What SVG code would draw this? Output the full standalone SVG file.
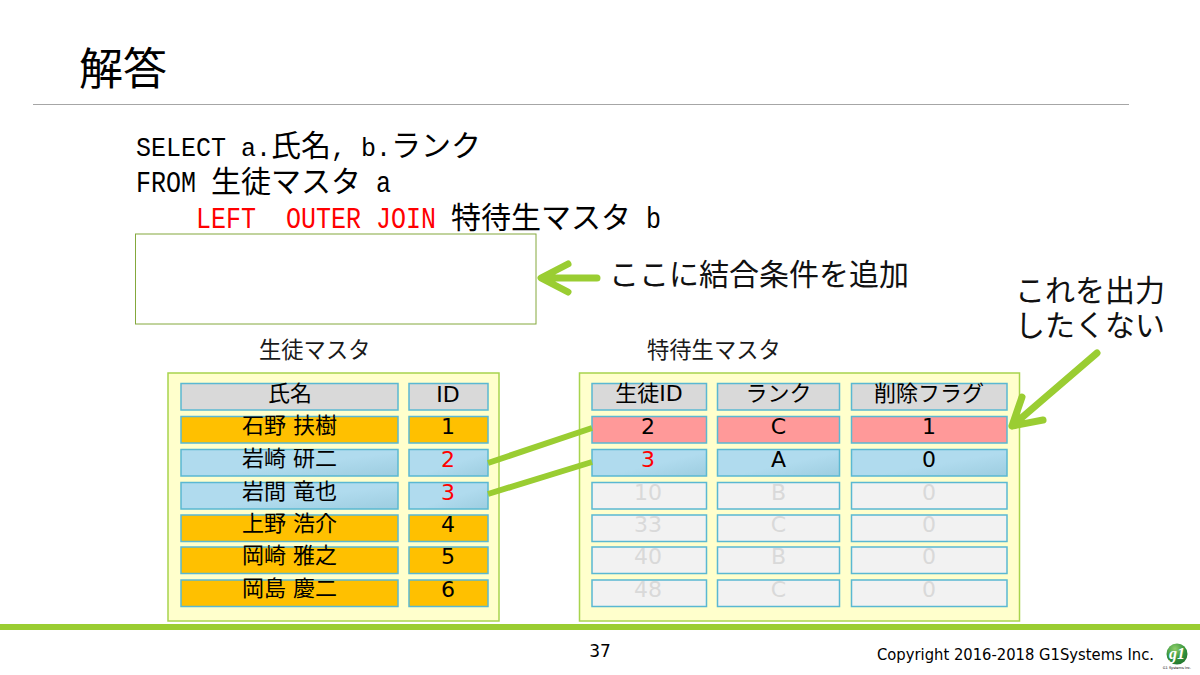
<svg xmlns="http://www.w3.org/2000/svg" width="1200" height="675" viewBox="0 0 1200 675">
<style>
text{font-family:"DejaVu Sans","Noto Sans CJK JP",sans-serif;fill:#000}
.code{font-family:"Liberation Mono","Noto Sans CJK JP",monospace;font-size:30px}
.sm{font-size:25px}
.sel{font-size:28px}
.cj{font-family:"Noto Sans CJK JP",sans-serif}
.red{fill:#f00}
.t{font-size:22px;text-anchor:middle}
.n{font-size:22px;text-anchor:middle;font-family:"Noto Sans CJK JP",sans-serif}
.lab{font-size:22.300px;fill:#1a1a1a}
.big{font-size:30px;fill:#111}
.panel{fill:#ffc;stroke:#a8d44e;stroke-width:1.5}
.c{stroke:#5ab8d2;stroke-width:1.5}
.h{fill:#d9d9d9}.o{fill:#ffc000}.b{fill:url(#blue)}.p{fill:#f99}.g{fill:#f2f2f2}
.pale{fill:#d9d9d9}
.ln{stroke:#9acd32;stroke-width:6;fill:none;stroke-linecap:round;stroke-linejoin:round}
.ar{stroke-width:7}
.st{stroke-linecap:butt}
</style>
<defs>
<linearGradient id="blue" x1="0" y1="0" x2="1" y2="1"><stop offset="0.55" stop-color="#b0dbee"/><stop offset="1" stop-color="#9dcde0"/></linearGradient>
<radialGradient id="logo" cx="0.4" cy="0.25" r="0.85"><stop offset="0" stop-color="#8fcf6a"/><stop offset="0.6" stop-color="#2f8f3a"/><stop offset="1" stop-color="#1f6f2c"/></radialGradient>
</defs>
<rect width="1200" height="675" fill="#fff"/>
<g id="header">
<text class="cj" x="79" y="85" font-size="44" fill="#111">解答</text>
<line x1="33" y1="104.500" x2="1129" y2="104.500" stroke="#a6a6a6" stroke-width="1"/>
</g>
<g id="sql">
<text class="code sel" x="136" y="156" textLength="90" lengthAdjust="spacingAndGlyphs">SELECT</text>
<text class="code sm" x="241" y="156">a.</text>
<text class="code" x="271" y="156">氏名</text>
<text class="code sm" x="331" y="156">,</text>
<text class="code sm" x="361" y="156">b.</text>
<text class="code" x="391" y="156">ランク</text>
<text class="code" x="136" y="192" textLength="60" lengthAdjust="spacingAndGlyphs">FROM</text>
<text class="code" x="211" y="192">生徒マスタ</text>
<text class="code" x="376" y="192" textLength="15" lengthAdjust="spacingAndGlyphs">a</text>
<text class="code red" x="196" y="228" textLength="60" lengthAdjust="spacingAndGlyphs">LEFT</text>
<text class="code red" x="286" y="228" textLength="75" lengthAdjust="spacingAndGlyphs">OUTER</text>
<text class="code red" x="376" y="228" textLength="60" lengthAdjust="spacingAndGlyphs">JOIN</text>
<text class="code" x="451" y="228">特待生マスタ</text>
<text class="code" x="646" y="228" textLength="15" lengthAdjust="spacingAndGlyphs">b</text>
</g>
<g id="condition-box"><rect x="135.500" y="234" width="400.500" height="90" fill="#fff" stroke="#84a83c" stroke-width="1"/></g>
<g id="condition-note"><text class="big" x="609" y="285">ここに結合条件を追加</text></g>
<g id="output-note"><text class="big" x="1015" y="301">これを出力</text><text class="big" x="1015" y="336">したくない</text></g>
<g id="student-label"><text class="lab" x="259" y="358">生徒マスタ</text></g>
<g id="special-label"><text class="lab" x="647" y="358">特待生マスタ</text></g>

<g id="student-table">
<rect class="panel" x="168" y="373" width="331" height="248"/>
<g id="s-head"><rect class="c h" x="181" y="383.500" width="217" height="26.500"/><rect class="c h" x="409" y="383.500" width="79" height="26.500"/><text class="n" x="290" y="401">氏名</text><text class="t" x="448" y="402">ID</text></g>
<g id="s-1"><rect class="c o" x="181" y="416.500" width="217" height="26.500"/><rect class="c o" x="409" y="416.500" width="79" height="26.500"/><text class="t" x="289.500" y="433">石野 扶樹</text><text class="t" x="448" y="434">1</text></g>
<g id="s-2"><rect class="c b" x="181" y="449.500" width="217" height="26.500"/><rect class="c b" x="409" y="449.500" width="79" height="26.500"/><text class="t" x="289.500" y="466">岩崎 研二</text><text class="t red" x="448" y="467">2</text></g>
<g id="s-3"><rect class="c b" x="181" y="482.500" width="217" height="26.500"/><rect class="c b" x="409" y="482.500" width="79" height="26.500"/><text class="t" x="289.500" y="499">岩間 竜也</text><text class="t red" x="448" y="500">3</text></g>
<g id="s-4"><rect class="c o" x="181" y="515" width="217" height="26.500"/><rect class="c o" x="409" y="515" width="79" height="26.500"/><text class="t" x="289.500" y="531">上野 浩介</text><text class="t" x="448" y="532">4</text></g>
<g id="s-5"><rect class="c o" x="181" y="547" width="217" height="26.500"/><rect class="c o" x="409" y="547" width="79" height="26.500"/><text class="t" x="289.500" y="563">岡崎 雅之</text><text class="t" x="448" y="564">5</text></g>
<g id="s-6"><rect class="c o" x="181" y="580" width="217" height="26.500"/><rect class="c o" x="409" y="580" width="79" height="26.500"/><text class="t" x="289.500" y="596">岡島 慶二</text><text class="t" x="448" y="597">6</text></g>
</g>

<g id="special-table">
<rect class="panel" x="579.500" y="373" width="440" height="248"/>
<g id="t-head"><rect class="c h" x="592" y="383.500" width="114.500" height="26.500"/><rect class="c h" x="717.500" y="383.500" width="122" height="26.500"/><rect class="c h" x="851.500" y="383.500" width="155.500" height="26.500"/><text class="t" x="649" y="401">生徒ID</text><text class="t" x="778.500" y="401">ランク</text><text class="t" x="929" y="401">削除フラグ</text></g>
<g id="t-1"><rect class="c p" x="592" y="416.500" width="114.500" height="26.500"/><rect class="c p" x="717.500" y="416.500" width="122" height="26.500"/><rect class="c p" x="851.500" y="416.500" width="155.500" height="26.500"/><text class="t" x="648" y="434">2</text><text class="t" x="778.500" y="434">C</text><text class="t" x="929" y="434">1</text></g>
<g id="t-2"><rect class="c b" x="592" y="449.500" width="114.500" height="26.500"/><rect class="c b" x="717.500" y="449.500" width="122" height="26.500"/><rect class="c b" x="851.500" y="449.500" width="155.500" height="26.500"/><text class="t red" x="648" y="467">3</text><text class="t" x="778.500" y="467">A</text><text class="t" x="929" y="467">0</text></g>
<g id="t-3"><rect class="c g" x="592" y="482.500" width="114.500" height="26.500"/><rect class="c g" x="717.500" y="482.500" width="122" height="26.500"/><rect class="c g" x="851.500" y="482.500" width="155.500" height="26.500"/><text class="t pale" x="648" y="500">10</text><text class="t pale" x="778.500" y="500">B</text><text class="t pale" x="929" y="500">0</text></g>
<g id="t-4"><rect class="c g" x="592" y="515" width="114.500" height="26.500"/><rect class="c g" x="717.500" y="515" width="122" height="26.500"/><rect class="c g" x="851.500" y="515" width="155.500" height="26.500"/><text class="t pale" x="648" y="532">33</text><text class="t pale" x="778.500" y="532">C</text><text class="t pale" x="929" y="532">0</text></g>
<g id="t-5"><rect class="c g" x="592" y="547" width="114.500" height="26.500"/><rect class="c g" x="717.500" y="547" width="122" height="26.500"/><rect class="c g" x="851.500" y="547" width="155.500" height="26.500"/><text class="t pale" x="648" y="564">40</text><text class="t pale" x="778.500" y="564">B</text><text class="t pale" x="929" y="564">0</text></g>
<g id="t-6"><rect class="c g" x="592" y="580" width="114.500" height="26.500"/><rect class="c g" x="717.500" y="580" width="122" height="26.500"/><rect class="c g" x="851.500" y="580" width="155.500" height="26.500"/><text class="t pale" x="648" y="597">48</text><text class="t pale" x="778.500" y="597">C</text><text class="t pale" x="929" y="597">0</text></g>
</g>

<g id="connectors">
<line class="ln st" x1="488" y1="463" x2="592" y2="428"/>
<line class="ln st" x1="488" y1="494" x2="592" y2="462"/>
<path class="ln ar" d="M597 278H542M568 264L541 278L568 292"/>
<path class="ln ar" d="M1097 353L1012 426M1022 397L1012 426L1043 420"/>
</g>

<g id="footer">
<rect x="0" y="624" width="1200" height="6" fill="#9acd32"/>
<text x="600" y="657" font-size="17" text-anchor="middle" fill="#222">37</text>
<text x="877" y="660" font-size="15" textLength="277" lengthAdjust="spacingAndGlyphs" fill="#222">Copyright 2016-2018 G1Systems Inc.</text>
</g>
<g id="logo-mark">
<circle cx="1177" cy="654" r="10.500" fill="url(#logo)"/>
<text x="1177" y="659" font-size="16" text-anchor="middle" font-style="italic" font-weight="bold" style="font-family:'Liberation Serif',serif;fill:#fff">g1</text>
<text x="1177" y="669" font-size="3.500" text-anchor="middle" fill="#333">G1 Systems Inc.</text>
</g>
</svg>
